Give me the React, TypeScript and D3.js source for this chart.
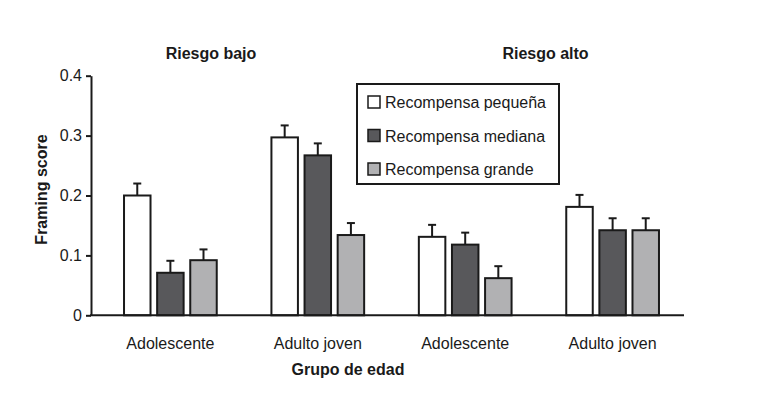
import { useEffect, useRef } from 'react';
import * as d3 from 'd3';

// grupos de edad, en orden (riesgo bajo: 2 primeros, riesgo alto: 2 ultimos)
const groups = ['Adolescente', 'Adulto joven', 'Adolescente', 'Adulto joven'];
const groupKeys = ['bajo-ado', 'bajo-adu', 'alto-ado', 'alto-adu'];
const series = ['Recompensa pequeña', 'Recompensa mediana', 'Recompensa grande'];
const colors = ['#ffffff', '#58585b', '#b1b1b3'];

// valores
const pequena = [0.2, 0.297, 0.131, 0.181];
const mediana = [0.071, 0.267, 0.118, 0.142];
const grande = [0.092, 0.134, 0.062, 0.142];
const errPequena = [0.02, 0.02, 0.02, 0.02];
const errMediana = [0.02, 0.02, 0.02, 0.02];
const errGrande = [0.018, 0.02, 0.02, 0.02];

const riskTitles = ['Riesgo bajo', 'Riesgo alto'];
const yTicks = [0, 0.1, 0.2, 0.3, 0.4];

export default function App() {
  const svgRef = useRef<SVGSVGElement>(null);

  useEffect(() => {
    const svg = d3.select(svgRef.current);
    svg.selectAll('*').remove();

    const font = 'Arial, "Liberation Sans", Helvetica, sans-serif';
    const left = 91, right = 684, top = 75.7, bottom = 315.3;

    const x0 = d3.scaleBand<string>().domain(groupKeys).range([left, 692])
      .paddingInner(0.371).paddingOuter(0.224);
    const x1 = d3.scaleBand<string>().domain(series).range([0, x0.bandwidth()])
      .paddingInner(0.2);
    const y = d3.scaleLinear().domain([0, 0.4]).range([bottom, top]);

    const values = [pequena, mediana, grande];
    const errs = [errPequena, errMediana, errGrande];
    const rows = groupKeys.flatMap((g, gi) =>
      series.map((s, si) => ({ g, s, si, v: values[si][gi], e: errs[si][gi] }))
    );

    // barras de error (solo hacia arriba)
    const eb = svg.append('g').attr('stroke', '#1a1a1a').attr('stroke-width', 2);
    rows.forEach(d => {
      const cx = x0(d.g)! + x1(d.s)! + x1.bandwidth() / 2;
      eb.append('line').attr('x1', cx).attr('x2', cx)
        .attr('y1', y(d.v)).attr('y2', y(d.v + d.e));
      eb.append('line').attr('x1', cx - 4).attr('x2', cx + 4)
        .attr('y1', y(d.v + d.e)).attr('y2', y(d.v + d.e));
    });

    svg.append('g').selectAll('rect').data(rows).enter().append('rect')
      .attr('x', d => x0(d.g)! + x1(d.s)!)
      .attr('y', d => y(d.v))
      .attr('width', x1.bandwidth())
      .attr('height', d => bottom - y(d.v))
      .attr('fill', d => colors[d.si])
      .attr('stroke', '#1a1a1a')
      .attr('stroke-width', 2);

    // eje y
    const yAxis = svg.append('g').attr('transform', `translate(${left},0)`)
      .call(d3.axisLeft(y).tickValues(yTicks).tickSize(5).tickSizeOuter(0)
        .tickFormat(d => (d === 0 ? '0' : d3.format('.1f')(d as number))));
    yAxis.select('.domain').attr('stroke', '#1a1a1a').attr('stroke-width', 2);
    yAxis.selectAll('.tick line').attr('stroke', '#1a1a1a').attr('stroke-width', 2);
    yAxis.selectAll('.tick text').attr('font-size', 16).attr('font-family', font)
      .attr('fill', '#1a1a1a').attr('x', -9);

    // eje x
    svg.append('line').attr('x1', left - 1).attr('x2', right)
      .attr('y1', bottom).attr('y2', bottom)
      .attr('stroke', '#1a1a1a').attr('stroke-width', 2);

    svg.append('g').selectAll('text').data(groupKeys).enter().append('text')
      .attr('x', d => x0(d)! + x0.bandwidth() / 2)
      .attr('y', 349)
      .attr('text-anchor', 'middle')
      .attr('font-family', font).attr('font-size', 16).attr('fill', '#1a1a1a')
      .text((d, i) => groups[i]);

    svg.append('text').attr('x', 348).attr('y', 375)
      .attr('text-anchor', 'middle').attr('font-family', font)
      .attr('font-size', 16).attr('font-weight', 'bold').attr('fill', '#1a1a1a')
      .text('Grupo de edad');

    svg.append('text')
      .attr('transform', `translate(47,${(top + bottom) / 2 - 6}) rotate(-90)`)
      .attr('text-anchor', 'middle').attr('font-family', font)
      .attr('font-size', 16).attr('font-weight', 'bold').attr('fill', '#1a1a1a')
      .text('Framing score');

    const titleX = [211, 545.5];
    riskTitles.forEach((t, i) => {
      svg.append('text').attr('x', titleX[i]).attr('y', 59)
        .attr('text-anchor', 'middle').attr('font-family', font)
        .attr('font-size', 16).attr('font-weight', 'bold').attr('fill', '#1a1a1a')
        .text(t);
    });

    // leyenda
    const lg = svg.append('g').attr('transform', 'translate(357,84)');
    lg.append('rect').attr('width', 202).attr('height', 100)
      .attr('fill', 'white').attr('stroke', '#1a1a1a').attr('stroke-width', 2);
    series.forEach((s, i) => {
      const cy = 18 + i * 33.5;
      lg.append('rect').attr('x', 11).attr('y', cy - 6).attr('width', 12).attr('height', 12)
        .attr('fill', colors[i]).attr('stroke', '#1a1a1a').attr('stroke-width', 1.5);
      lg.append('text').attr('x', 28).attr('y', cy + 6)
        .attr('font-family', font).attr('font-size', 16).attr('fill', '#1a1a1a')
        .text(s);
    });
  }, []);

  return (
    <svg ref={svgRef} width={773} height={394}
      style={{ position: 'absolute', left: 0, top: 0, background: 'white' }} />
  );
}
